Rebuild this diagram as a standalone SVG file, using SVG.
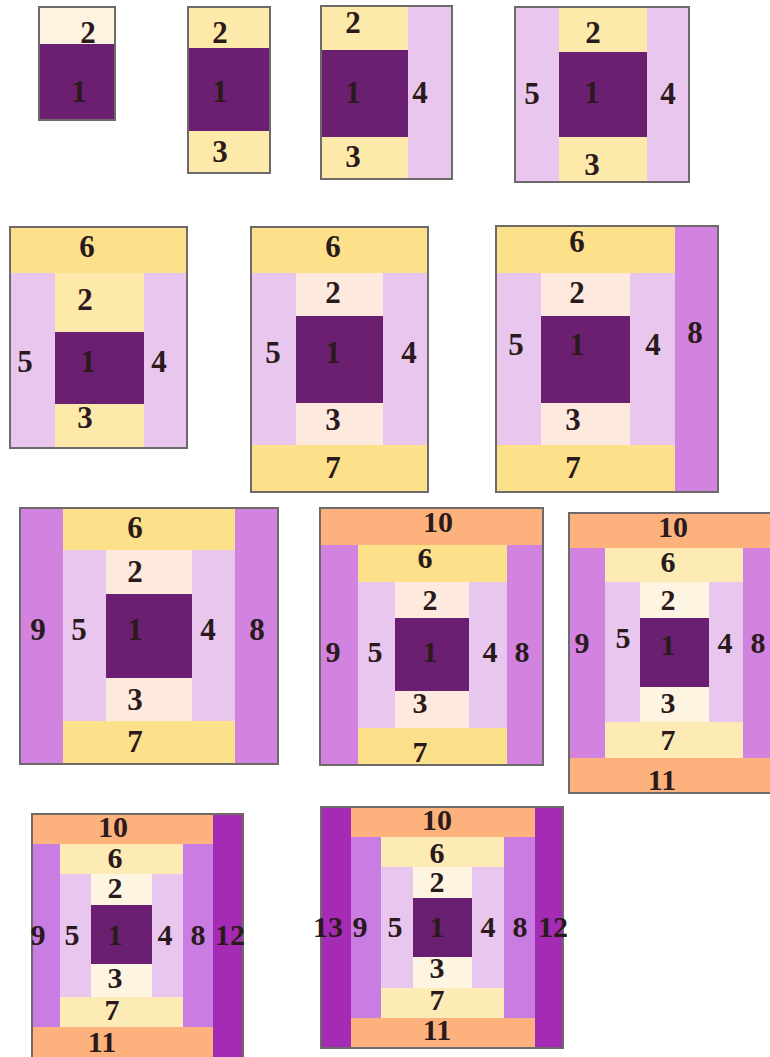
<svg xmlns="http://www.w3.org/2000/svg" width="770" height="1057" viewBox="0 0 770 1057">
<style>
rect{shape-rendering:crispEdges}
.b{fill:none;stroke:#6e6a6a;stroke-width:1.5}
.c1{fill:#6b1f70}
.cr{fill:#fdf3e0}
.y{fill:#fde9aa}
.pe{fill:#fde9dd}
.pc{fill:#fdf5e2}
.l{fill:#e9c6ee}
.g{fill:#fde08a}
.py{fill:#fcebb5}
.o{fill:#d282df}
.m{fill:#c97ce2}
.r{fill:#fdb27d}
.d{fill:#a52bb5}
text{font-family:"Liberation Serif","Times New Roman",serif;font-weight:bold;font-size:31px;fill:#2a1a1c;text-anchor:middle}
.s text{font-size:30px}
</style>
<rect width="770" height="1057" fill="#ffffff"/>

<g id="block-a">
<rect class="cr" x="39" y="7" width="76" height="37"/>
<rect class="c1" x="39" y="44" width="76" height="76"/>
<rect class="b" x="39" y="7" width="76" height="113"/>
<text x="88" y="43">2</text>
<text x="79" y="102">1</text>
</g>

<g id="block-b">
<rect class="y" x="188" y="7" width="82" height="41"/>
<rect class="c1" x="188" y="48" width="82" height="83"/>
<rect class="y" x="188" y="131" width="82" height="42"/>
<rect class="b" x="188" y="7" width="82" height="166"/>
<text x="220" y="43">2</text>
<text x="220" y="102">1</text>
<text x="220" y="162">3</text>
</g>

<g id="block-c">
<rect class="y" x="321" y="6" width="87" height="44"/>
<rect class="c1" x="321" y="50" width="87" height="87"/>
<rect class="y" x="321" y="137" width="87" height="42"/>
<rect class="l" x="408" y="6" width="44" height="173"/>
<rect class="b" x="321" y="6" width="131" height="173"/>
<text x="353" y="33">2</text>
<text x="353" y="103">1</text>
<text x="353" y="167">3</text>
<text x="420" y="103">4</text>
</g>

<g id="block-d">
<rect class="l" x="515" y="7" width="44" height="175"/>
<rect class="y" x="559" y="7" width="88" height="45"/>
<rect class="c1" x="559" y="52" width="88" height="85"/>
<rect class="y" x="559" y="137" width="88" height="45"/>
<rect class="l" x="647" y="7" width="42" height="175"/>
<rect class="b" x="515" y="7" width="174" height="175"/>
<text x="593" y="43">2</text>
<text x="592" y="103">1</text>
<text x="592" y="175">3</text>
<text x="532" y="104">5</text>
<text x="668" y="104">4</text>
</g>

<g id="block-e">
<rect class="g" x="10" y="227" width="177" height="46"/>
<rect class="l" x="10" y="273" width="45" height="175"/>
<rect class="y" x="55" y="273" width="89" height="59"/>
<rect class="c1" x="55" y="332" width="89" height="72"/>
<rect class="y" x="55" y="404" width="89" height="44"/>
<rect class="l" x="144" y="273" width="43" height="175"/>
<rect class="b" x="10" y="227" width="177" height="221"/>
<text x="87" y="257">6</text>
<text x="85" y="310">2</text>
<text x="88" y="372">1</text>
<text x="85" y="428">3</text>
<text x="25" y="372">5</text>
<text x="159" y="372">4</text>
</g>

<g id="block-f">
<rect class="g" x="251" y="227" width="177" height="46"/>
<rect class="l" x="251" y="273" width="45" height="172"/>
<rect class="pe" x="296" y="273" width="87" height="43"/>
<rect class="c1" x="296" y="316" width="87" height="87"/>
<rect class="pe" x="296" y="403" width="87" height="42"/>
<rect class="l" x="383" y="273" width="45" height="172"/>
<rect class="g" x="251" y="445" width="177" height="47"/>
<rect class="b" x="251" y="227" width="177" height="265"/>
<text x="333" y="257">6</text>
<text x="333" y="303">2</text>
<text x="333" y="363">1</text>
<text x="333" y="430">3</text>
<text x="333" y="478">7</text>
<text x="273" y="363">5</text>
<text x="409" y="363">4</text>
</g>

<g id="block-g">
<rect class="g" x="496" y="226" width="179" height="47"/>
<rect class="l" x="496" y="273" width="45" height="172"/>
<rect class="pe" x="541" y="273" width="89" height="43"/>
<rect class="c1" x="541" y="316" width="89" height="87"/>
<rect class="pe" x="541" y="403" width="89" height="42"/>
<rect class="l" x="630" y="273" width="45" height="172"/>
<rect class="g" x="496" y="445" width="179" height="47"/>
<rect class="o" x="675" y="226" width="43" height="266"/>
<rect class="b" x="496" y="226" width="222" height="266"/>
<text x="577" y="252">6</text>
<text x="577" y="303">2</text>
<text x="577" y="355">1</text>
<text x="573" y="430">3</text>
<text x="573" y="478">7</text>
<text x="516" y="355">5</text>
<text x="653" y="355">4</text>
<text x="695" y="343">8</text>
</g>

<g id="block-h">
<rect class="o" x="20" y="508" width="43" height="256"/>
<rect class="g" x="63" y="508" width="172" height="42"/>
<rect class="l" x="63" y="550" width="43" height="171"/>
<rect class="pe" x="106" y="550" width="86" height="44"/>
<rect class="c1" x="106" y="594" width="86" height="84"/>
<rect class="pe" x="106" y="678" width="86" height="43"/>
<rect class="l" x="192" y="550" width="43" height="171"/>
<rect class="g" x="63" y="721" width="172" height="43"/>
<rect class="o" x="235" y="508" width="43" height="256"/>
<rect class="b" x="20" y="508" width="258" height="256"/>
<text x="135" y="538">6</text>
<text x="135" y="582">2</text>
<text x="135" y="640">1</text>
<text x="135" y="710">3</text>
<text x="135" y="752">7</text>
<text x="38" y="640">9</text>
<text x="79" y="640">5</text>
<text x="208" y="640">4</text>
<text x="257" y="640">8</text>
</g>

<g id="block-i" class="s">
<rect class="r" x="320" y="508" width="223" height="37"/>
<rect class="o" x="320" y="545" width="38" height="220"/>
<rect class="g" x="358" y="545" width="149" height="37"/>
<rect class="l" x="358" y="582" width="37" height="146"/>
<rect class="pe" x="395" y="582" width="74" height="36"/>
<rect class="c1" x="395" y="618" width="74" height="73"/>
<rect class="pe" x="395" y="691" width="74" height="37"/>
<rect class="l" x="469" y="582" width="38" height="146"/>
<rect class="g" x="358" y="728" width="149" height="37"/>
<rect class="o" x="507" y="545" width="36" height="220"/>
<rect class="b" x="320" y="508" width="223" height="257"/>
<text x="438" y="532">10</text>
<text x="425" y="568">6</text>
<text x="430" y="610">2</text>
<text x="430" y="662">1</text>
<text x="420" y="713">3</text>
<text x="420" y="762">7</text>
<text x="333" y="662">9</text>
<text x="375" y="662">5</text>
<text x="490" y="662">4</text>
<text x="522" y="662">8</text>
</g>

<g id="block-j" class="s">
<rect class="r" x="569" y="513" width="212" height="35"/>
<rect class="o" x="569" y="548" width="36" height="210"/>
<rect class="py" x="605" y="548" width="138" height="34"/>
<rect class="l" x="605" y="582" width="35" height="140"/>
<rect class="pc" x="640" y="582" width="69" height="36"/>
<rect class="c1" x="640" y="618" width="69" height="69"/>
<rect class="pc" x="640" y="687" width="69" height="35"/>
<rect class="l" x="709" y="582" width="34" height="140"/>
<rect class="py" x="605" y="722" width="138" height="36"/>
<rect class="o" x="743" y="548" width="38" height="210"/>
<rect class="r" x="569" y="758" width="212" height="35"/>
<rect class="b" x="569" y="513" width="212" height="280"/>
<text x="673" y="537">10</text>
<text x="668" y="572">6</text>
<text x="668" y="610">2</text>
<text x="668" y="655">1</text>
<text x="668" y="713">3</text>
<text x="668" y="750">7</text>
<text x="662" y="790">11</text>
<text x="582" y="653">9</text>
<text x="623" y="648">5</text>
<text x="725" y="653">4</text>
<text x="758" y="653">8</text>
</g>

<g id="block-k" class="s">
<rect class="r" x="32" y="814" width="181" height="30"/>
<rect class="m" x="32" y="844" width="28" height="183"/>
<rect class="py" x="60" y="844" width="123" height="30"/>
<rect class="l" x="60" y="874" width="31" height="123"/>
<rect class="pc" x="91" y="874" width="61" height="31"/>
<rect class="c1" x="91" y="905" width="61" height="59"/>
<rect class="pc" x="91" y="964" width="61" height="33"/>
<rect class="l" x="152" y="874" width="31" height="123"/>
<rect class="py" x="60" y="997" width="123" height="30"/>
<rect class="m" x="183" y="844" width="30" height="183"/>
<rect class="r" x="32" y="1027" width="181" height="33"/>
<rect class="d" x="213" y="814" width="30" height="246"/>
<rect class="b" x="32" y="814" width="211" height="246"/>
<text x="113" y="837">10</text>
<text x="115" y="868">6</text>
<text x="115" y="898">2</text>
<text x="115" y="945">1</text>
<text x="115" y="988">3</text>
<text x="112" y="1020">7</text>
<text x="102" y="1052">11</text>
<text x="38" y="945">9</text>
<text x="72" y="945">5</text>
<text x="165" y="945">4</text>
<text x="198" y="945">8</text>
<text x="230" y="945">12</text>
</g>

<g id="block-l" class="s">
<rect class="d" x="321" y="807" width="30" height="241"/>
<rect class="r" x="351" y="807" width="184" height="30"/>
<rect class="m" x="351" y="837" width="30" height="181"/>
<rect class="py" x="381" y="837" width="123" height="30"/>
<rect class="l" x="381" y="867" width="32" height="121"/>
<rect class="pc" x="413" y="867" width="59" height="31"/>
<rect class="c1" x="413" y="898" width="59" height="59"/>
<rect class="pc" x="413" y="957" width="59" height="31"/>
<rect class="l" x="472" y="867" width="32" height="121"/>
<rect class="py" x="381" y="988" width="123" height="30"/>
<rect class="m" x="504" y="837" width="31" height="181"/>
<rect class="r" x="351" y="1018" width="184" height="30"/>
<rect class="d" x="535" y="807" width="28" height="241"/>
<rect class="b" x="321" y="807" width="242" height="241"/>
<text x="437" y="830">10</text>
<text x="437" y="863">6</text>
<text x="437" y="892">2</text>
<text x="437" y="937">1</text>
<text x="437" y="978">3</text>
<text x="437" y="1010">7</text>
<text x="437" y="1040">11</text>
<text x="328" y="937">13</text>
<text x="360" y="937">9</text>
<text x="395" y="937">5</text>
<text x="488" y="937">4</text>
<text x="520" y="937">8</text>
<text x="553" y="937">12</text>
</g>
</svg>
